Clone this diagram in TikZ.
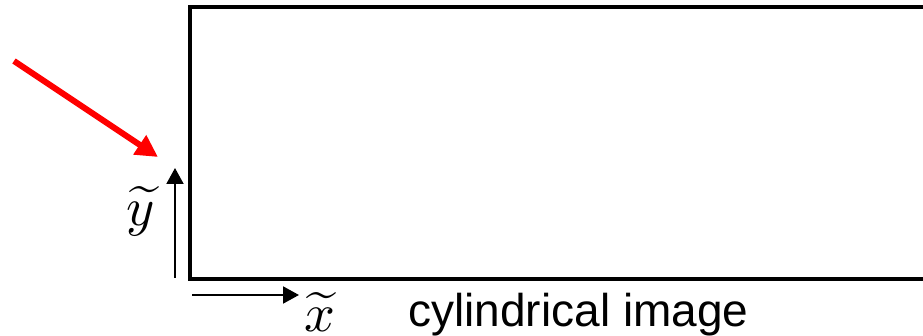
\documentclass[tikz,border=0pt]{standalone}
\usepackage{amsmath}
\usepackage{fontspec}
\setsansfont{Liberation Sans}
\usetikzlibrary{positioning, arrows.meta}

\tikzset{
  frame/.style={draw, line width=2pt},
  axis/.style={-{Triangle[length=8pt, width=8.5pt]}, line width=1pt},
  pointer/.style={-{Triangle[length=11pt, width=11pt]}, red, line width=3pt},
  lbl/.style={inner sep=0pt, scale=2.7}
}

\begin{document}
\begin{tikzpicture}[x=0.5pt, y=-0.5pt]
  \useasboundingbox (0,0) rectangle (923,336);

  % Cylindrical image frame
  \draw[frame] (190,7.5) rectangle (940,279);
  \node[anchor=base west, inner sep=0pt, font=\sffamily\fontsize{23}{27}\selectfont] (title) at (408,327) {cylindrical image};

  % Axes
  \coordinate (ylo) at (175,278);
  \coordinate (yhi) at (175,168);
  \coordinate (xlo) at (192,295);
  \coordinate (xhi) at (299,295);
  \draw[axis] (ylo) -- (yhi);
  \draw[axis] (xlo) -- (xhi);
  \node[lbl] (ylab) at (141,211) {$\widetilde{y}$};
  \node[lbl] (xlab) at (320,312) {$\widetilde{x}$};

  % Pointer
  \coordinate (ptail) at (14,61);
  \coordinate (phead) at (158,157);
  \draw[pointer] (ptail) -- (phead);
\end{tikzpicture}
\end{document}
